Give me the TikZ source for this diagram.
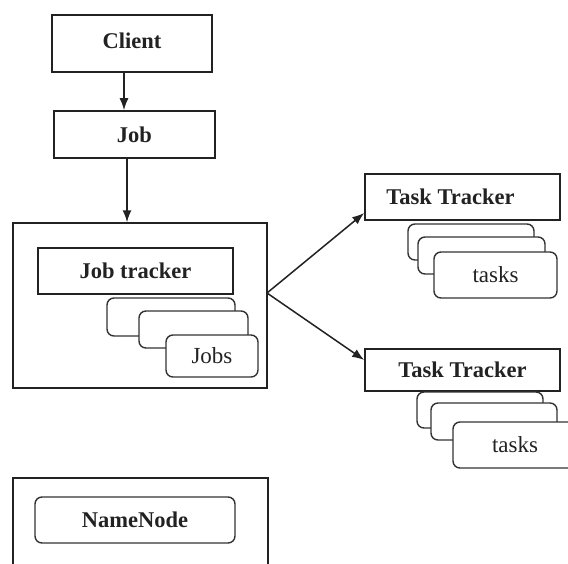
\documentclass[tikz,border=0pt]{standalone}
\usepackage{fontspec}
\setmainfont{Liberation Serif}
\usetikzlibrary{arrows.meta}
\definecolor{ink}{HTML}{222222}
\definecolor{edge}{HTML}{333333}
\tikzset{
  box/.style={draw=ink, line width=1.6pt, fill=white, inner sep=0pt,
    font=\fontsize{22.5}{24}\selectfont\bfseries, text=ink},
  card/.style={draw=edge, line width=1.4pt, fill=white, rounded corners=7pt,
    inner sep=0pt, font=\fontsize{23}{24}\selectfont, text=ink},
  frame/.style={draw=ink, line width=1.4pt, inner sep=0pt},
  link/.style={draw=ink, line width=1.5pt, -{Latex[length=12pt,width=9pt]}},
}
\begin{document}
\begin{tikzpicture}[x=1pt, y=-1pt]
  \clip (0,0) rectangle (568,563);
  \fill[white] (0,0) rectangle (568,563);

  % client and job
  \node[box, minimum width=160pt, minimum height=57pt] (client) at (132,43.5) {\raisebox{6pt}{Client}};
  \node[box, minimum width=161pt, minimum height=47pt] (job) at (134.5,134.5) {Job};

  % job tracker frame with its queued jobs
  \node[frame, minimum width=254pt, minimum height=165pt] (jtframe) at (140,305.5) {};
  \node[box, minimum width=195pt, minimum height=46pt] (jt) at (135.5,271) {Job tracker};
  \node[card, minimum width=128pt, minimum height=38pt] (jobA) at (171,317) {};
  \node[card, minimum width=109pt, minimum height=37pt] (jobB) at (193.5,329.5) {};
  \node[card, minimum width=92pt, minimum height=42pt] (jobC) at (212,356) {Jobs};
  \coordinate (fork) at (267,293);

  % first task tracker
  \node[box, minimum width=195pt, minimum height=46pt] (tt1) at (462.5,197) {\hspace*{-24pt}Task Tracker};
  \node[card, minimum width=126pt, minimum height=36pt] (t1a) at (471,242) {};
  \node[card, minimum width=127pt, minimum height=37pt] (t1b) at (481.5,255.5) {};
  \node[card, minimum width=123pt, minimum height=46pt] (t1c) at (495.5,275) {tasks};

  % second task tracker
  \node[box, minimum width=195pt, minimum height=42pt] (tt2) at (462.5,370) {Task Tracker};
  \node[card, minimum width=126pt, minimum height=36pt] (t2a) at (480,410) {};
  \node[card, minimum width=126pt, minimum height=37pt] (t2b) at (494,421.5) {};
  \node[card, minimum width=124pt, minimum height=46pt] (t2c) at (515,445) {tasks};

  % name node
  \node[frame, minimum width=255pt, minimum height=122pt] (nnframe) at (140.5,539) {};
  \node[card, font=\fontsize{22.5}{24}\selectfont\bfseries, minimum width=200pt, minimum height=46pt] (nn) at (135,520) {NameNode};

  % connectors
  \draw[link] ([xshift=-8pt]client.south) -- ([xshift=-10.5pt]job.north);
  \draw[link] ([xshift=-7.5pt]job.south) -- ([xshift=-13pt]jtframe.north);
  \draw[link] (fork) -- ([yshift=-16pt]tt1.west);
  \draw[link] (fork) -- ([yshift=10pt]tt2.west);
\end{tikzpicture}
\end{document}
